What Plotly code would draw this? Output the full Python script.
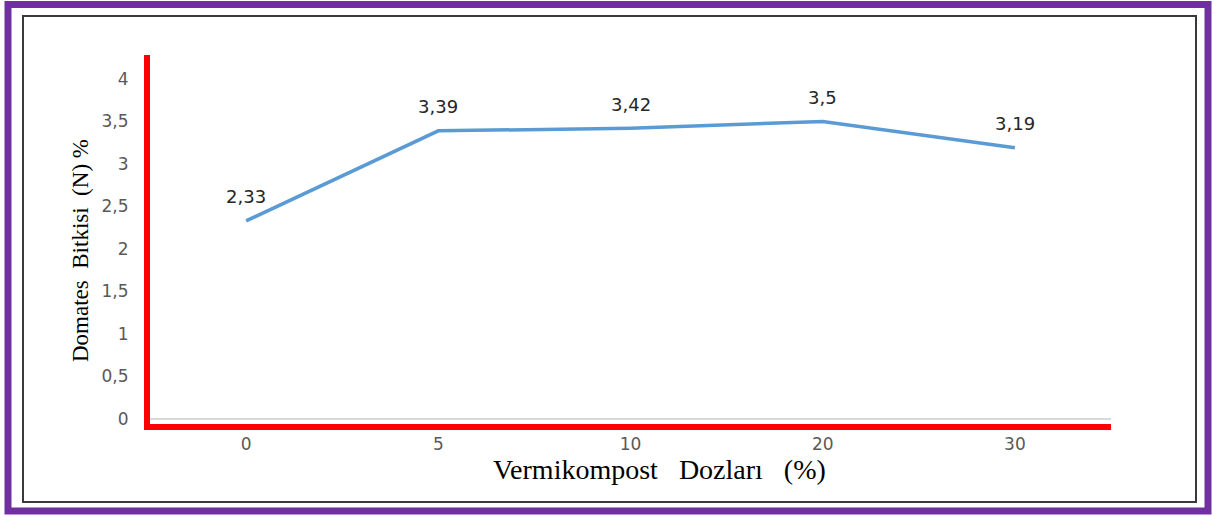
import plotly.graph_objects as go

# Data
doses = ["0", "5", "10", "20", "30"]
nitrogen = [2.33, 3.39, 3.42, 3.5, 3.19]
y_ticks = [0, 0.5, 1, 1.5, 2, 2.5, 3, 3.5, 4]

W, H = 1212, 515
L, R, T, B = 150, 101, 55, 91
PW, PH = W - L - R, H - T - B


def px(p):
    return (p - L) / PW


def py(q):
    return (H - B - q) / PH


fig = go.Figure()
fig.add_trace(go.Scatter(
    x=doses, y=nitrogen, mode="lines",
    line=dict(color="#5B9BD5", width=3.5),
    hoverinfo="skip", showlegend=False,
))

annotations = []
for i, v in enumerate(nitrogen):
    annotations.append(dict(
        x=i, y=v, xref="x", yref="y", text=f"{v:g}".replace(".", ","),
        showarrow=False, yshift=24,
        font=dict(family="DejaVu Sans", size=18, color="#262626"),
    ))

annotations.append(dict(
    x=px(80), y=py(251), xref="paper", yref="paper",
    text="Domates\u00a0\u00a0Bitkisi\u00a0\u00a0(N)\u00a0%", textangle=-90,
    showarrow=False, xanchor="center", yanchor="middle",
    font=dict(family="Liberation Serif", size=23, color="#000000"),
))
annotations.append(dict(
    x=px(659), y=py(469), xref="paper", yref="paper",
    text="Vermikompost\u00a0\u00a0\u00a0Dozları\u00a0\u00a0\u00a0(%)",
    showarrow=False, xanchor="center", yanchor="middle",
    font=dict(family="Liberation Serif", size=28, color="#000000"),
))

shapes = [
    dict(type="rect", xref="paper", yref="paper",
         x0=px(8), x1=px(1208), y0=py(4.5), y1=py(511),
         line=dict(color="#7030A0", width=7), layer="below"),
    dict(type="rect", xref="paper", yref="paper",
         x0=px(23), x1=px(1196), y0=py(16), y1=py(502),
         line=dict(color="#3a3a3a", width=2), layer="below"),
]

fig.update_layout(
    width=W, height=H,
    margin=dict(l=L, r=R, t=T, b=B),
    paper_bgcolor="white", plot_bgcolor="white",
    separators=",.",
    showlegend=False,
    annotations=annotations,
    shapes=shapes,
    xaxis=dict(
        type="category", range=[-0.5, 4.5],
        showgrid=False, zeroline=False,
        showline=True, linecolor="#FF0000", linewidth=6,
        ticks="", ticklabelstandoff=0,
        tickfont=dict(family="DejaVu Sans", size=17, color="#595959"),
    ),
    yaxis=dict(
        range=[-0.059, 4.282],
        tickmode="array", tickvals=y_ticks,
        showgrid=False,
        zeroline=True, zerolinecolor="#D9D9D9", zerolinewidth=1.5,
        showline=True, linecolor="#FF0000", linewidth=6,
        ticks="", ticklabelstandoff=12,
        tickfont=dict(family="DejaVu Sans", size=17, color="#595959"),
    ),
)

fig.write_html(
    "out.html",
    config={"displayModeBar": False},
    post_script="document.body.style.margin='0';document.body.style.overflow='hidden';",
)
